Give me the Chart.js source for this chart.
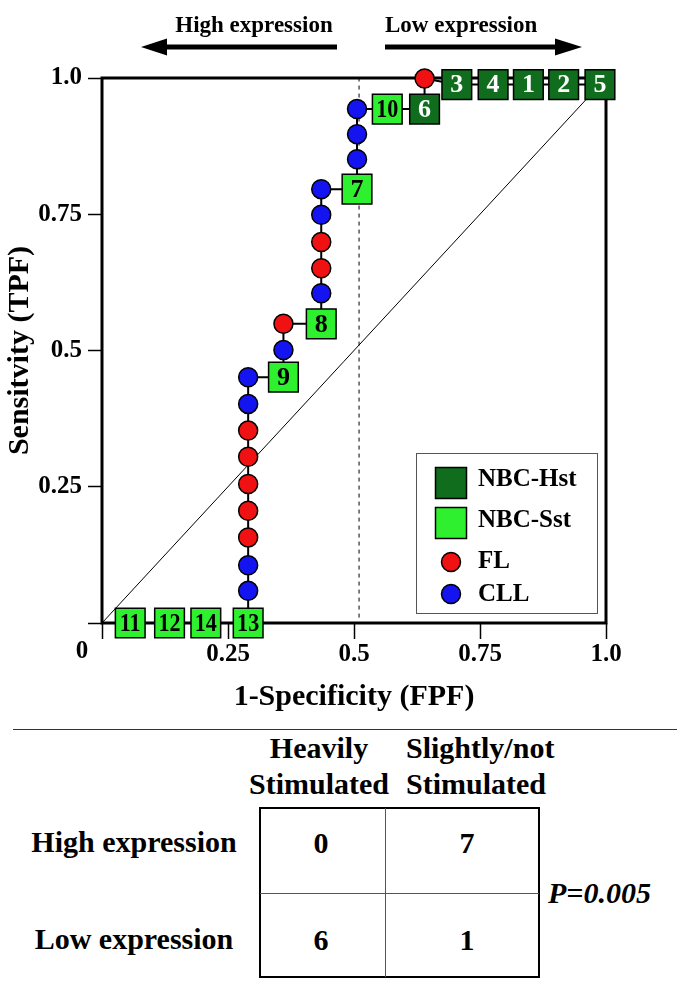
<!DOCTYPE html>
<html>
<head>
<meta charset="utf-8">
<script src="https://cdn.jsdelivr.net/npm/chart.js@4.4.1/dist/chart.umd.min.js"></script>
<style>
  body { margin: 0; background: #fff; }
  #wrap { position: relative; width: 685px; height: 989px; font-family: "Liberation Serif", "Times New Roman", serif; font-weight: bold; color: #000; }
  #roc { position: absolute; left: 0; top: 0; }
  .t { position: absolute; white-space: nowrap; font-size: 30px; line-height: 36px; height: 36px; }
  .c { text-align: center; width: 240px; }
  .ln { position: absolute; }
</style>
</head>
<body>
<div id="wrap">
  <canvas id="roc" width="685" height="720" style="width:685px;height:720px"></canvas>
</div>
<script>
// ROC step path, in drawing order (x = 1-specificity, y = sensitivity)
const pathX = [0.056, 0.134, 0.206, 0.29,
  0.29, 0.29, 0.29, 0.29, 0.29, 0.29, 0.29, 0.29, 0.29,
  0.36, 0.36, 0.36,
  0.435, 0.435, 0.435, 0.435, 0.435, 0.435,
  0.506, 0.506, 0.506, 0.506,
  0.566, 0.64, 0.64,
  0.704, 0.776, 0.846, 0.916, 0.988];
const pathY = [0, 0, 0, 0,
  0.059, 0.106, 0.157, 0.206, 0.255, 0.305, 0.353, 0.402, 0.451,
  0.451, 0.501, 0.549,
  0.549, 0.605, 0.651, 0.699, 0.749, 0.796,
  0.796, 0.851, 0.897, 0.943,
  0.943, 0.943, 0.999,
  0.988, 0.988, 0.988, 0.988, 0.988];
// H = NBC-Hst, S = NBC-Sst, F = FL, C = CLL
const pathGroup = ['S', 'S', 'S', 'S',
  'C', 'C', 'F', 'F', 'F', 'F', 'F', 'C', 'C',
  'S', 'C', 'F',
  'S', 'C', 'F', 'F', 'C', 'C',
  'S', 'C', 'C', 'C',
  'S', 'H', 'F',
  'H', 'H', 'H', 'H', 'H'];
const pathLabel = ['11', '12', '14', '13',
  '', '', '', '', '', '', '', '', '',
  '9', '', '',
  '8', '', '', '', '', '',
  '7', '', '', '',
  '10', '6', '',
  '3', '4', '1', '2', '5'];
const seriesKeys = ['H', 'S', 'F', 'C'];
const seriesNames = ['NBC-Hst', 'NBC-Sst', 'FL', 'CLL'];

const diagX = [0, 0.96];
const diagY = [0, 0.96];
const cutX = 0.51;
const cutY = [0.01, 1];

const xTicks = [0, 0.25, 0.5, 0.75, 1];
const yTicks = [0, 0.25, 0.5, 0.75, 1];

// 2x2 table below the chart
const colHeads = [['Heavily', 'Stimulated'], ['Slightly/not', 'Stimulated']];
const rowHeads = ['High expression', 'Low expression'];
const counts = [[0, 7], [6, 1]];
const pValue = 'P=0.005';

const F = '"Liberation Serif", "Times New Roman", serif';
const look = {
  H: { style: 'rect', fill: '#0f6d1d', text: '#fff' },
  S: { style: 'rect', fill: '#2ef02e', text: '#000' },
  F: { style: 'circle', fill: '#f01212', text: null },
  C: { style: 'circle', fill: '#1414f0', text: null }
};

const markerSets = seriesKeys.map((k, n) => {
  const idx = pathGroup.map((g, i) => g === k ? i : -1).filter(i => i >= 0);
  const lk = look[k];
  return {
    label: seriesNames[n],
    data: idx.map(i => ({ x: pathX[i], y: pathY[i] })),
    nums: idx.map(i => pathLabel[i]),
    textColor: lk.text,
    pointStyle: lk.style,
    pointRadius: lk.style === 'rect' ? 21 : 9.5,
    backgroundColor: lk.fill,
    borderColor: '#000',
    borderWidth: 1.5,
    showLine: false,
    clip: false,
    order: 0
  };
});

const pathSet = {
  label: 'path',
  data: pathX.map((x, i) => ({ x: x, y: pathY[i] })),
  showLine: true, borderColor: '#000', borderWidth: 2, pointRadius: 0,
  clip: false, order: 5
};
const diagSet = {
  label: 'diag',
  data: diagX.map((x, i) => ({ x: x, y: diagY[i] })),
  showLine: true, borderColor: '#000', borderWidth: 1, pointRadius: 0, order: 6
};
const cutSet = {
  label: 'cut',
  data: cutY.map(y => ({ x: cutX, y: y })),
  showLine: true, borderColor: '#000', borderWidth: 1, borderDash: [4, 4], pointRadius: 0, order: 6
};

function arrow(ctx, x1, x2, y, tip) {
  ctx.lineWidth = 5;
  ctx.beginPath(); ctx.moveTo(x1, y); ctx.lineTo(x2, y); ctx.stroke();
  const base = tip < x1 ? x1 : x2;
  ctx.beginPath();
  ctx.moveTo(tip, y); ctx.lineTo(base, y - 8.5); ctx.lineTo(base, y + 8.5); ctx.closePath();
  ctx.fill();
}

const rocDecor = {
  id: 'rocDecor',
  beforeDatasetsDraw(chart) {
    const { ctx, chartArea: a } = chart;
    ctx.save();
    ctx.lineWidth = 3;
    ctx.strokeStyle = '#000';
    ctx.strokeRect(a.left, a.top, a.right - a.left, a.bottom - a.top);
    ctx.restore();
  },
  afterDatasetsDraw(chart) {
    const ctx = chart.ctx;
    ctx.save();
    // numbers in the squares
    ctx.font = 'bold 26px ' + F;
    ctx.textAlign = 'center';
    ctx.textBaseline = 'middle';
    chart.data.datasets.forEach((ds, d) => {
      if (!ds.nums || !ds.textColor) return;
      ctx.fillStyle = ds.textColor;
      chart.getDatasetMeta(d).data.forEach((pt, i) => {
        if (!ds.nums[i]) return;
        const two = ds.nums[i].length > 1;
        ctx.save();
        ctx.translate(pt.x, pt.y + 1);
        if (two) ctx.scale(0.85, 1);
        ctx.fillText(ds.nums[i], 0, 0);
        ctx.restore();
      });
    });
    // legend box
    ctx.fillStyle = '#fff';
    ctx.fillRect(416, 453, 181, 160);
    ctx.strokeStyle = '#555';
    ctx.lineWidth = 1;
    ctx.strokeRect(416.5, 453.5, 181, 160);
    const rows = [483, 523, 562, 594];
    const txtY = [480, 521, 562, 595];
    ctx.textAlign = 'left';
    ctx.font = 'bold 25px ' + F;
    markerSets.forEach((ds, i) => {
      const x = 451, y = rows[i];
      ctx.fillStyle = ds.backgroundColor;
      ctx.strokeStyle = '#000';
      ctx.lineWidth = 1.5;
      ctx.beginPath();
      if (ds.pointStyle === 'rect') ctx.rect(x - 15.5, y - 15.5, 31, 31);
      else ctx.arc(x, y, 9.5, 0, Math.PI * 2);
      ctx.fill(); ctx.stroke();
      ctx.fillStyle = '#000';
      ctx.fillText(ds.label, 478, txtY[i]);
    });
    ctx.restore();
  },
  afterDraw(chart) {
    const ctx = chart.ctx;
    ctx.save();
    ctx.fillStyle = '#000';
    ctx.strokeStyle = '#000';
    arrow(ctx, 167, 337, 47, 141);
    arrow(ctx, 385, 555, 47, 582);
    ctx.font = 'bold 23px ' + F;
    ctx.textBaseline = 'middle';
    ctx.textAlign = 'center';
    ctx.fillText('High expression', 254, 26);
    ctx.textAlign = 'left';
    ctx.fillText('Low expression', 385, 26);
    // shared origin label
    ctx.font = 'bold 25px ' + F;
    ctx.textAlign = 'center';
    ctx.fillText('0', 82, 652);
    ctx.restore();
  }
};

const fmt = v => v === 0 ? '' : (v === 1 ? '1.0' : String(v));

new Chart(document.getElementById('roc'), {
  type: 'scatter',
  data: { datasets: markerSets.concat([pathSet, diagSet, cutSet]) },
  options: {
    responsive: false,
    animation: false,
    events: [],
    layout: { padding: { top: 78, right: 79, left: 0, bottom: 0 } },
    plugins: { legend: { display: false }, tooltip: { enabled: false } },
    scales: {
      x: {
        type: 'linear', min: 0, max: 1,
        afterBuildTicks: s => { s.ticks = xTicks.map(v => ({ value: v })); },
        ticks: { color: '#000', padding: 1, maxRotation: 0, font: { family: F, size: 25, weight: 'bold' }, callback: fmt },
        grid: { drawOnChartArea: false, drawTicks: true, tickLength: 16, tickColor: '#000', tickWidth: 1.5 },
        border: { display: false },
        title: { display: true, text: '1-Specificity (FPF)', color: '#000', font: { family: F, size: 30, weight: 'bold' }, padding: { top: 0, bottom: 5 } },
        afterFit: s => { s.height = 97; }
      },
      y: {
        type: 'linear', min: 0, max: 1,
        afterBuildTicks: s => { s.ticks = yTicks.map(v => ({ value: v })); },
        ticks: { color: '#000', padding: 6, font: { family: F, size: 25, weight: 'bold' }, callback: fmt },
        grid: { drawOnChartArea: false, drawTicks: true, tickLength: 14, tickColor: '#000', tickWidth: 1.5 },
        border: { display: false },
        title: { display: true, text: 'Sensitvity (TPF)', color: '#000', font: { family: F, size: 30, weight: 'bold' }, padding: { top: 2, bottom: 0 } },
        afterFit: s => { s.width = 102; }
      }
    }
  },
  plugins: [rocDecor]
});

// table below the chart
const wrap = document.getElementById('wrap');
function put(text, css, cls) {
  const d = document.createElement('div');
  d.className = cls || 't';
  d.textContent = text;
  Object.assign(d.style, css);
  wrap.appendChild(d);
  return d;
}
put('', { left: '13px', top: '729px', width: '664px', height: '1px', background: '#333' }, 'ln');
const headX = [319, 406];
colHeads.forEach((lines, c) => {
  lines.forEach((txt, r) => {
    const top = (730 + r * 36) + 'px';
    if (c === 0) put(txt, { left: (headX[c] - 120) + 'px', top: top }, 't c');
    else put(txt, { left: headX[c] + 'px', top: top });
  });
});
put('', { left: '259px', top: '807px', width: '281px', height: '171px', border: '2.5px solid #000', boxSizing: 'border-box' }, 'ln');
put('', { left: '385px', top: '808px', width: '1px', height: '169px', background: '#555' }, 'ln');
put('', { left: '260px', top: '893px', width: '279px', height: '1px', background: '#555' }, 'ln');
const cellX = [321, 467];
const cellY = [843, 940];
rowHeads.forEach((txt, r) => {
  put(txt, { left: (134 - 120) + 'px', top: (cellY[r] - 19) + 'px' }, 't c');
  counts[r].forEach((v, c) => {
    put(String(v), { left: (cellX[c] - 120) + 'px', top: (cellY[r] - 18) + 'px' }, 't c');
  });
});
put(pValue, { left: '548px', top: '875px', fontStyle: 'italic' });
</script>
</body>
</html>
